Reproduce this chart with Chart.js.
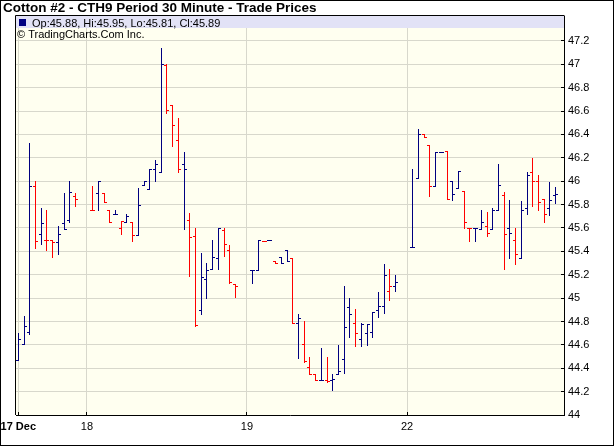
<!DOCTYPE html>
<html>
<head>
<meta charset="utf-8">
<script src="https://cdn.jsdelivr.net/npm/chart.js@4.4.1/dist/chart.umd.min.js"></script>
<style>
  html, body { margin: 0; padding: 0; background: #fff; }
</style>
</head>
<body>
<canvas id="myChart" width="614" height="446"></canvas>
<script>
const titleText = 'Cotton #2 - CTH9 Period 30 Minute - Trade Prices';
const creditText = '\u00A9 TradingCharts.Com Inc.';

// half-hour slot of each bar, counted from the first bar of 17 Dec
const slots = [0, 1, 2, 3, 4, 5, 6, 7, 8, 9, 10,
  13, 14, 15, 16, 17, 18, 19, 20, 21, 22, 23, 24, 25, 26, 27, 28, 29, 30, 31, 32, 33, 34, 35, 36, 37, 38,
  41, 42, 43, 44, 45, 46, 47, 48, 49, 50, 51, 52, 53, 54, 55, 56, 57, 58, 59, 60, 61, 62, 63, 64, 65, 66,
  69, 70, 71, 72, 73, 74, 75, 76, 77, 78, 79, 80, 81, 82, 83, 84, 85, 86, 87, 88, 89, 90, 91, 92, 93, 94];

const opens = [44.47, 44.61, 44.71, 45.96, 45.55, 45.50, 45.50, 45.48, 45.64, 45.67, 45.87,
  45.75, 45.90, 45.90, 45.75, 45.72, 45.60, 45.65, 45.65, 45.54, 45.97, 45.93, 46.10, 46.08, 46.99, 46.65, 46.35, 46.15, 45.67, 45.53, 44.90, 45.16, 45.25, 45.34, 45.58, 45.41, 45.12,
  45.24, 45.24, 45.49, 45.50, 45.32, 45.35, 45.41, 45.34, 44.79, 44.61, 44.41, 44.35, 44.30, 44.30, 44.30, 44.35, 44.48, 44.92, 44.79, 44.65, 44.70, 44.71, 44.90, 44.93, 45.06, 45.10,
  45.44, 46.03, 46.40, 46.31, 45.96, 46.25, 46.26, 46.00, 45.94, 45.92, 45.60, 45.60, 45.59, 45.62, 45.59, 45.75, 45.88, 45.60, 45.50, 45.34, 45.77, 46.08, 46.00, 45.85, 45.77, 45.88];

const highs = [44.70, 44.85, 46.33, 46.00, 45.77, 45.75, 45.50, 45.62, 45.90, 46.00, 45.90,
  45.96, 46.00, 45.90, 45.75, 45.75, 45.66, 45.72, 45.65, 45.94, 46.00, 46.10, 46.18, 47.14, 47.00, 46.65, 46.54, 46.25, 45.73, 45.60, 45.39, 45.30, 45.50, 45.60, 45.60, 45.45, 45.12,
  45.24, 45.50, 45.49, 45.50, 45.32, 45.35, 45.41, 45.34, 44.86, 44.80, 44.50, 44.35, 44.57, 44.50, 44.35, 44.60, 45.10, 45.00, 44.91, 44.79, 44.78, 44.88, 45.05, 45.29, 45.25, 45.20,
  46.10, 46.45, 46.40, 46.31, 46.25, 46.25, 46.26, 46.00, 46.09, 45.92, 45.60, 45.60, 45.75, 45.74, 45.77, 46.15, 45.91, 45.84, 45.60, 45.83, 46.08, 46.20, 46.05, 45.85, 45.99, 45.95];

const lows = [44.47, 44.61, 44.69, 45.43, 45.46, 45.41, 45.35, 45.38, 45.59, 45.65, 45.79,
  45.75, 45.75, 45.82, 45.65, 45.72, 45.55, 45.65, 45.49, 45.54, 45.97, 45.93, 46.00, 46.08, 46.58, 46.30, 46.08, 45.59, 45.19, 44.76, 44.86, 45.00, 45.25, 45.25, 45.36, 45.13, 45.01,
  45.13, 45.24, 45.49, 45.50, 45.30, 45.30, 45.32, 44.79, 44.49, 44.45, 44.35, 44.30, 44.30, 44.28, 44.21, 44.35, 44.36, 44.67, 44.59, 44.59, 44.60, 44.67, 44.84, 44.87, 44.98, 45.06,
  45.44, 46.03, 46.38, 45.87, 45.96, 46.25, 45.85, 45.84, 45.94, 45.60, 45.49, 45.49, 45.59, 45.53, 45.59, 45.75, 45.25, 45.34, 45.29, 45.34, 45.72, 45.79, 45.75, 45.65, 45.71, 45.81];

const closes = [44.65, 44.76, 45.96, 45.49, 45.64, 45.50, 45.48, 45.55, 45.59, 45.91, 45.85,
  45.75, 46.00, 45.82, 45.65, 45.72, 45.66, 45.70, 45.54, 45.80, 46.00, 46.10, 46.15, 47.00, 46.61, 46.48, 46.10, 46.10, 45.52, 44.77, 45.18, 45.24, 45.35, 45.60, 45.46, 45.14, 45.10,
  45.24, 45.50, 45.49, 45.50, 45.30, 45.30, 45.32, 44.79, 44.83, 44.46, 44.35, 44.30, 44.30, 44.29, 44.31, 44.38, 44.75, 44.86, 44.70, 44.78, 44.78, 44.88, 44.93, 45.20, 45.10, 45.14,
  45.44, 46.40, 46.38, 45.96, 46.25, 46.25, 45.85, 45.89, 46.09, 45.65, 45.60, 45.60, 45.65, 45.56, 45.75, 45.97, 45.55, 45.56, 45.38, 45.75, 46.05, 46.00, 45.82, 45.72, 45.84, 45.89];

const dayTicks = [0, 12, 40, 68];
const dayLabels = ['17 Dec', '18', '19', '22'];
const priceTicks = [44, 44.2, 44.4, 44.6, 44.8, 45, 45.2, 45.4, 45.6, 45.8, 46, 46.2, 46.4, 46.6, 46.8, 47, 47.2];
const priceLabels = ['44', '44.2', '44.4', '44.6', '44.8', '45', '45.2', '45.4', '45.6', '45.8', '46', '46.2', '46.4', '46.6', '46.8', '47', '47.2'];

const upColor = '#000080';
const downColor = '#ff0000';
const plotBg = '#fffff0';
const bandBg = '#e2e2f6';
const gridColor = '#d8d8cc';
const fontFamily = '"Liberation Sans", Arial, sans-serif';

Chart.defaults.font.family = fontFamily;
Chart.defaults.color = '#000';

const ohlcPlugin = {
  id: 'ohlc',
  beforeDraw(chart) {
    const c = chart.ctx, a = chart.chartArea;
    c.save();
    c.fillStyle = '#fff';
    c.fillRect(0, 0, chart.width, chart.height);
    c.fillStyle = plotBg;
    c.fillRect(a.left, a.top, a.right - a.left, a.bottom - a.top);
    c.restore();
  },
  afterDatasetsDraw(chart) {
    const c = chart.ctx, a = chart.chartArea;
    const xs = chart.scales.x, ys = chart.scales.y;
    c.save();
    for (let i = 0; i < slots.length; i++) {
      const col = Math.floor(xs.getPixelForValue(slots[i]));
      const yH = Math.round(ys.getPixelForValue(highs[i]));
      const yL = Math.round(ys.getPixelForValue(lows[i]));
      const yO = Math.round(ys.getPixelForValue(opens[i]));
      const yC = Math.round(ys.getPixelForValue(closes[i]));
      const down = i > 0 && closes[i] < closes[i - 1];
      c.fillStyle = down ? downColor : upColor;
      c.fillRect(col, yH, 1, yL - yH + 1);
      c.fillRect(col - 2, yO, 2, 1);
      c.fillRect(col + 1, yC, 2, 1);
    }

    // small inner tick marks
    c.fillStyle = '#000';
    ys.ticks.forEach(t => {
      const r = Math.round(ys.getPixelForValue(t.value) - 0.5);
      c.fillRect(a.right - 3, r, 3, 1);
    });
    xs.ticks.forEach(t => {
      const col = Math.round(xs.getPixelForValue(t.value) - 0.5);
      c.fillRect(col, a.bottom - 3, 1, 3);
    });

    // legend band
    c.fillStyle = bandBg;
    c.fillRect(a.left, a.top, a.right - a.left, 12);
    c.fillStyle = upColor;
    c.fillRect(19, 19, 7, 7);
    c.fillStyle = '#000';
    c.font = '11px ' + fontFamily;
    c.textBaseline = 'alphabetic';
    const n = closes.length - 1;
    const legendText = 'Op:' + opens[n].toFixed(2) + ', Hi:' + highs[n].toFixed(2) +
      ', Lo:' + lows[n].toFixed(2) + ', Cl:' + closes[n].toFixed(2);
    c.fillText(legendText, 32, 27);
    c.fillText(creditText, 17, 38);

    // frame
    c.strokeStyle = '#000';
    c.lineWidth = 1;
    c.beginPath();
    c.moveTo(a.left - 0.5, a.bottom);
    c.lineTo(a.left - 0.5, a.top - 0.5);
    c.lineTo(a.right + 0.5, a.top - 0.5);
    c.stroke();

    // title
    c.font = 'bold 13.5px ' + fontFamily;
    c.fillText(titleText, 3, 12);

    c.strokeRect(0.5, 0.5, chart.width - 1, chart.height - 1);
    c.restore();
  }
};

const ctx = document.getElementById('myChart');

let chart = new Chart(ctx, {
  type: 'scatter',
  data: {
    datasets: [{
      label: 'Close',
      data: slots.map((s, i) => ({ x: s, y: closes[i] })),
      pointRadius: 0,
      showLine: false
    }]
  },
  options: {
    responsive: false,
    animation: false,
    devicePixelRatio: 1,
    layout: { padding: { left: 16, top: 16, right: 0, bottom: 0 } },
    plugins: {
      legend: { display: false },
      tooltip: { enabled: false }
    },
    scales: {
      x: {
        type: 'linear',
        position: 'bottom',
        min: -0.4023,
        max: 95.45,
        afterBuildTicks: s => { s.ticks = dayTicks.map(v => ({ value: v })); },
        afterFit: s => { s.height = 31; s.paddingLeft = 0; s.paddingRight = 0; },
        grid: { color: gridColor, drawTicks: false },
        border: { color: '#000' },
        ticks: {
          autoSkip: false,
          maxRotation: 0,
          padding: 5,
          color: '#000',
          font: c => ({ family: fontFamily, size: 11, weight: c.index === 0 ? 'bold' : 'normal' }),
          callback: (v, i) => dayLabels[i]
        }
      },
      y: {
        type: 'linear',
        position: 'right',
        min: 44,
        max: 47.413,
        afterBuildTicks: s => { s.ticks = priceTicks.map(v => ({ value: v })); },
        afterFit: s => { s.width = 50; s.paddingTop = 0; s.paddingBottom = 0; },
        grid: { color: gridColor, drawTicks: false },
        border: { color: '#000' },
        ticks: {
          padding: 4,
          color: '#000',
          font: { size: 11 },
          callback: (v, i) => priceLabels[i]
        }
      }
    }
  },
  plugins: [ohlcPlugin]
});
</script>
</body>
</html>
